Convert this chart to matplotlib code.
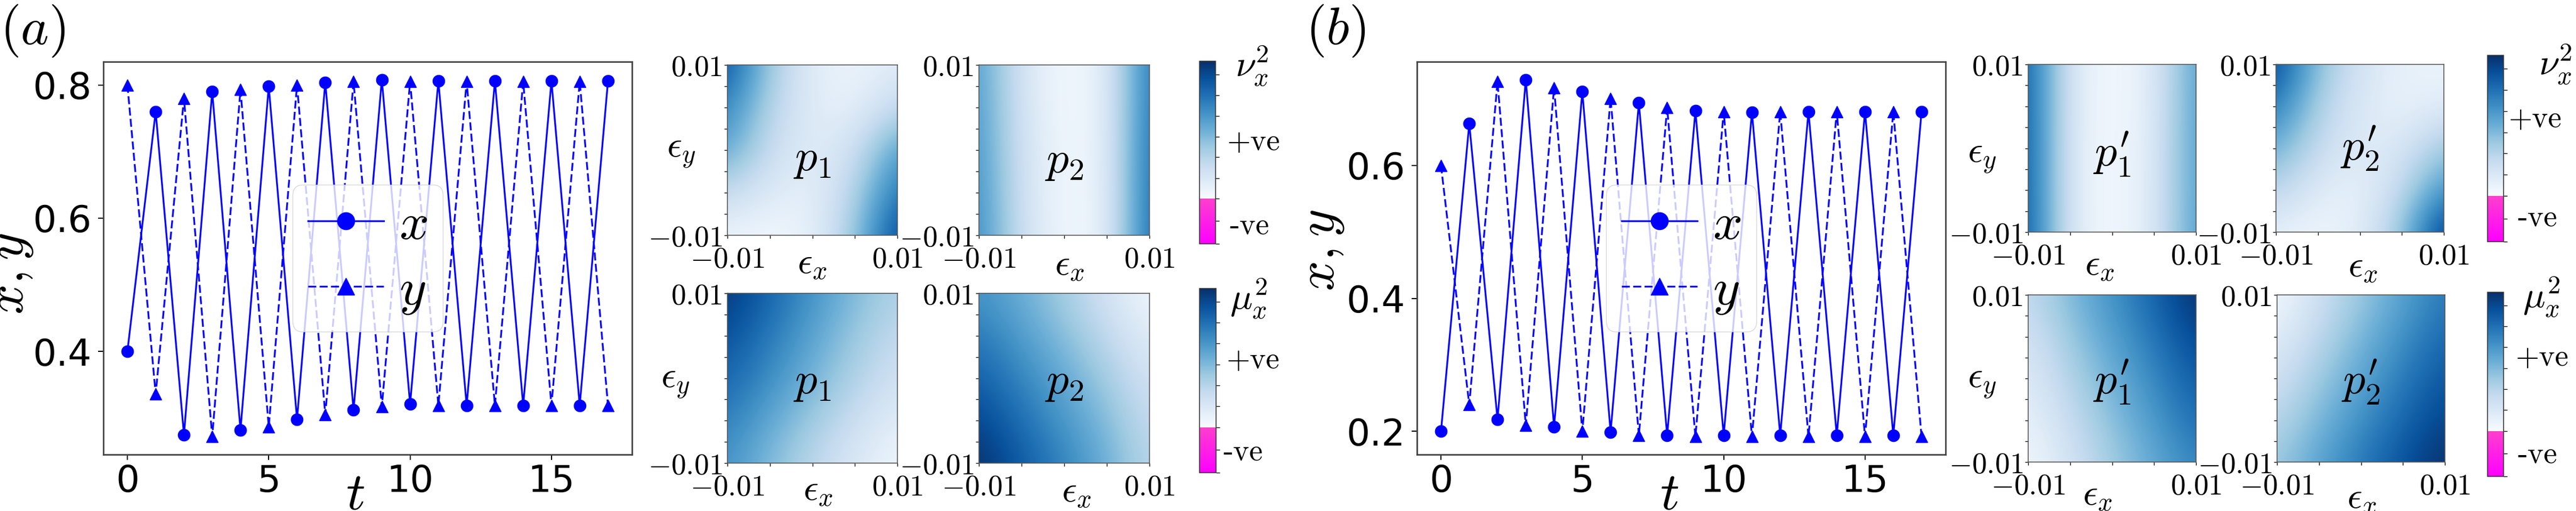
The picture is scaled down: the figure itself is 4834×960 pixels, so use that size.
import numpy as np
import matplotlib
matplotlib.use("Agg")
import matplotlib.pyplot as plt
from matplotlib.colors import ListedColormap, Normalize
from matplotlib.cm import ScalarMappable

plt.rcParams["mathtext.fontset"] = "cm"

# ---- time series data ----
t_steps = list(range(18))
x_a = [0.400, 0.760, 0.275, 0.790, 0.282, 0.798, 0.298, 0.804, 0.312, 0.808,
       0.321, 0.806, 0.319, 0.806, 0.319, 0.806, 0.319, 0.806]
y_a = [0.800, 0.336, 0.780, 0.272, 0.793, 0.287, 0.800, 0.305, 0.805, 0.317,
       0.805, 0.319, 0.805, 0.319, 0.805, 0.319, 0.805, 0.319]
x_b = [0.200, 0.663, 0.218, 0.729, 0.207, 0.711, 0.199, 0.694, 0.194, 0.682,
       0.194, 0.680, 0.194, 0.681, 0.194, 0.681, 0.194, 0.681]
y_b = [0.600, 0.240, 0.726, 0.209, 0.717, 0.200, 0.701, 0.194, 0.687, 0.192,
       0.681, 0.192, 0.681, 0.192, 0.681, 0.192, 0.681, 0.192]

# ---- heatmap data (rows: eps_y = 0.01 ... -0.01, cols: eps_x = -0.01 ... 0.01) ----
eps_xticks = [-0.01, -0.005, 0.0, 0.005, 0.01]
eps_yticks = [-0.01, -0.0075, -0.005, -0.0025, 0.0, 0.0025, 0.005, 0.0075, 0.01]

nu_a_p1 = [[0.88, 0.37, 0.10, 0.05, 0.12],
           [0.68, 0.30, 0.11, 0.08, 0.26],
           [0.55, 0.23, 0.11, 0.20, 0.58],
           [0.25, 0.13, 0.08, 0.30, 0.74],
           [0.05, 0.03, 0.07, 0.38, 0.92]]
nu_a_p2 = [[0.58, 0.16, 0.02, 0.08, 0.75],
           [0.60, 0.17, 0.02, 0.07, 0.76],
           [0.62, 0.18, 0.03, 0.07, 0.78],
           [0.64, 0.19, 0.03, 0.06, 0.79],
           [0.66, 0.20, 0.03, 0.06, 0.80]]
mu_a_p1 = [[0.97, 0.80, 0.62, 0.45, 0.32],
           [0.88, 0.72, 0.55, 0.38, 0.25],
           [0.80, 0.64, 0.48, 0.32, 0.19],
           [0.70, 0.53, 0.37, 0.22, 0.10],
           [0.62, 0.44, 0.28, 0.14, 0.04]]
mu_a_p2 = [[0.62, 0.50, 0.35, 0.18, 0.03],
           [0.72, 0.58, 0.43, 0.27, 0.10],
           [0.82, 0.67, 0.52, 0.36, 0.18],
           [0.92, 0.76, 0.60, 0.44, 0.24],
           [1.00, 0.84, 0.68, 0.50, 0.28]]
nu_b_p1 = [[0.84, 0.13, 0.01, 0.11, 0.57],
           [0.84, 0.13, 0.01, 0.11, 0.58],
           [0.85, 0.12, 0.01, 0.12, 0.58],
           [0.85, 0.12, 0.01, 0.12, 0.58],
           [0.86, 0.12, 0.01, 0.12, 0.59]]
nu_b_p2 = [[0.92, 0.42, 0.18, 0.08, 0.05],
           [0.72, 0.33, 0.14, 0.07, 0.12],
           [0.50, 0.25, 0.12, 0.15, 0.38],
           [0.30, 0.12, 0.07, 0.26, 0.62],
           [0.08, 0.04, 0.10, 0.38, 0.98]]
mu_b_p1 = [[0.25, 0.45, 0.62, 0.80, 1.00],
           [0.18, 0.38, 0.56, 0.73, 0.92],
           [0.12, 0.31, 0.49, 0.66, 0.84],
           [0.07, 0.24, 0.42, 0.59, 0.77],
           [0.02, 0.18, 0.36, 0.52, 0.68]]
mu_b_p2 = [[0.02, 0.20, 0.38, 0.55, 0.72],
           [0.10, 0.28, 0.46, 0.63, 0.79],
           [0.19, 0.37, 0.54, 0.71, 0.86],
           [0.28, 0.46, 0.63, 0.79, 0.93],
           [0.37, 0.55, 0.72, 0.87, 1.00]]

# colorbar: magenta for negative part, Blues for positive part
neg_frac = 0.247
cbar_ticks = [0.0, 0.124, 0.247, 0.360, 0.474, 0.587, 0.701, 0.814, 0.928]

W, H = 4834, 960
fig = plt.figure(figsize=(W / 100, H / 100), dpi=100)


def rect(l, t, r, b):
    return [l / W, 1 - b / H, (r - l) / W, (b - t) / H]


def fxy(x, y):
    return x / W, 1 - y / H


n_neg = int(round(neg_frac * 1000))
mag = np.column_stack([np.ones(n_neg), np.linspace(0.0, 0.25, n_neg),
                       np.linspace(1.0, 0.8, n_neg), np.ones(n_neg)])
blues = plt.cm.Blues(np.linspace(0, 1, 1000 - n_neg))
sign_cmap = ListedColormap(np.vstack([mag, blues]))


def draw_series(box, x, y, yticks, ylab_xy, t_xy):
    ax = fig.add_axes(rect(*box))
    ax.plot(t_steps, x, "-o", color="blue", lw=2.4, ms=16, label="$x$")
    ax.plot(t_steps, y, "--^", color="blue", lw=2.4, ms=16, label="$y$",
            dashes=(4.5, 1.9))
    ax.set_xticks([0, 5, 10, 15])
    ax.set_yticks(yticks)
    ax.tick_params(labelsize=50, length=7, width=1.5)
    ax.tick_params(axis="x", pad=5)
    ax.tick_params(axis="y", pad=9)
    for s in ax.spines.values():
        s.set_linewidth(2.0)
        s.set_color("#404040")
    ax.set_ylabel("$x, y$", fontsize=72)
    ax.yaxis.set_label_coords(*ylab_xy)
    ax.set_xlabel("$t$", fontsize=72)
    ax.xaxis.set_label_coords(*t_xy)
    ax.legend(loc="center", fontsize=70, markerscale=1.45, handlelength=1.46,
              handletextpad=0.3, labelspacing=0.3, borderpad=0.3,
              framealpha=0.8, fancybox=True)
    return ax


def draw_heat(box, grid, label, label_y):
    ax = fig.add_axes(rect(*box))
    # grid values sit on the pixel centres, axes clipped to +-0.01
    ax.imshow(np.array(grid), extent=(-0.0125, 0.0125, -0.0125, 0.0125),
              cmap="Blues", vmin=0, vmax=1, interpolation="bicubic",
              aspect="auto")
    ax.set_xlim(-0.01, 0.01)
    ax.set_ylim(-0.01, 0.01)
    ax.set_xticks(eps_xticks)
    ax.set_xticklabels(["$-0.01$", "", "", "", "$0.01$"])
    ax.set_yticks(eps_yticks)
    ax.set_yticklabels(["$-0.01$"] + [""] * 7 + ["$0.01$"])
    ax.tick_params(labelsize=40, length=4, width=1)
    ax.tick_params(axis="x", pad=10)
    ax.tick_params(axis="y", pad=3)
    for s in ax.spines.values():
        s.set_linewidth(1.2)
        s.set_color("#555555")
    ax.text(0.5, label_y, label, transform=ax.transAxes, ha="center",
            va="center", fontsize=60)
    return ax


def draw_cbar(box, name, name_xy, plus_xy, minus_xy):
    cax = fig.add_axes(rect(*box))
    cb = fig.colorbar(ScalarMappable(norm=Normalize(0, 1), cmap=sign_cmap),
                      cax=cax)
    cb.set_ticks(cbar_ticks)
    cb.set_ticklabels([""] * len(cbar_ticks))
    cb.ax.tick_params(length=5, width=1)
    cb.outline.set_linewidth(1.2)
    cb.outline.set_edgecolor("#333333")
    fig.text(*fxy(*name_xy), name, fontsize=50, ha="left", va="top")
    fig.text(*fxy(*plus_xy), "+ve", fontsize=41, ha="left", va="center",
             family="cmr10")
    fig.text(*fxy(*minus_xy), "-ve", fontsize=41, ha="left", va="center",
             family="cmr10")


# ---------------- panel (a) ----------------
fig.text(*fxy(0, 5), "$(a)$", fontsize=72, ha="left", va="top")
draw_series((194, 116, 1186, 854), x_a, y_a, [0.4, 0.6, 0.8],
            (-0.129, 0.46), (0.476, -0.036))
draw_heat((1365, 122, 1684, 442), nu_a_p1, "$p_1$", 0.45)
draw_heat((1837, 122, 2157, 442), nu_a_p2, "$p_2$", 0.44)
draw_heat((1365, 551, 1684, 870), mu_a_p1, "$p_1$", 0.48)
draw_heat((1837, 551, 2157, 870), mu_a_p2, "$p_2$", 0.48)
draw_cbar((2251, 115, 2281, 458), r"$\nu_x^2$", (2318, 83), (2303, 267),
          (2307, 425))
draw_cbar((2251, 542, 2282, 888), r"$\mu_x^2$", (2308, 520), (2302, 677),
          (2295, 850))

# ---------------- panel (b) ----------------
fig.text(*fxy(2450, 5), "$(b)$", fontsize=72, ha="left", va="top")
draw_series((2659, 116, 3651, 854), x_b, y_b, [0.2, 0.4, 0.6],
            (-0.134, 0.52), (0.477, -0.036))
draw_heat((3806, 121, 4121, 436), nu_b_p1, "$p_1'$", 0.465)
draw_heat((4271, 121, 4586, 436), nu_b_p2, "$p_2'$", 0.50)
draw_heat((3806, 554, 4121, 868), mu_b_p1, "$p_1'$", 0.48)
draw_heat((4273, 554, 4588, 868), mu_b_p2, "$p_2'$", 0.48)
draw_cbar((4668, 104, 4698, 454), r"$\nu_x^2$", (4764, 80), (4708, 224),
          (4724, 410))
draw_cbar((4668, 549, 4698, 895), r"$\mu_x^2$", (4734, 517), (4721, 672),
          (4724, 855))

# epsilon axis labels
eps_x_pos = [(1524, 462), (2007, 465), (1535, 888), (2020, 891),
             (3940, 465), (4434, 468), (3936, 897), (4432, 903)]
for px, py in eps_x_pos:
    fig.text(*fxy(px, py), r"$\epsilon_x$", fontsize=50, ha="center", va="top")
eps_y_pos = [(1278, 286), (1267, 718), (3719, 296), (3719, 718)]
for px, py in eps_y_pos:
    fig.text(*fxy(px, py), r"$\epsilon_y$", fontsize=50, ha="center",
             va="center")

fig.savefig("out.png", dpi=100)
